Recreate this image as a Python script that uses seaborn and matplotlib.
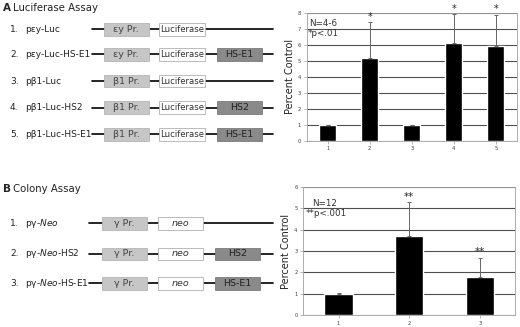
import numpy as np
import matplotlib
matplotlib.use("Agg")
import matplotlib.pyplot as plt
import matplotlib.patches as mpatches
import seaborn as sns

# bar chart values
luc_labels = ["1", "2", "3", "4", "5"]
luc_values = [1.0, 5.2, 1.0, 6.1, 5.95]
luc_err = [0.0, 2.2, 0.0, 1.8, 1.9]
luc_stars = ["", "*", "", "*", "*"]

col_labels = ["1", "2", "3"]
col_values = [1.0, 3.7, 1.8]
col_err = [0.03, 1.57, 0.87]
col_stars = ["", "**", "**"]

# construct diagrams
luc_names = ["pεy-Luc", "pεy-Luc-HS-E1", "pβ1-Luc", "pβ1-Luc-HS2", "pβ1-Luc-HS-E1"]
luc_promoters = ["εy Pr.", "εy Pr.", "β1 Pr.", "β1 Pr.", "β1 Pr."]
luc_enhancers = ["", "HS-E1", "", "HS2", "HS-E1"]

col_names = [r"pγ-$\mathit{Neo}$", r"pγ-$\mathit{Neo}$-HS2", r"pγ-$\mathit{Neo}$-HS-E1"]
col_promoters = ["γ Pr.", "γ Pr.", "γ Pr."]
col_enhancers = ["", "HS2", "HS-E1"]

sns.set_style("white")
plt.rcParams['font.family'] = ['DejaVu Sans']
plt.rcParams['mathtext.fontset'] = 'dejavusans'

fig = plt.figure(figsize=(5.2, 3.27), dpi=100)

# left side: diagrams drawn in pixel-like coordinates
dg = fig.add_axes([0, 0, 1, 1])
dg.set_xlim(0, 520)
dg.set_ylim(327, 0)
dg.axis('off')


def construct(y, num, name, prom, rep, enh, x0, xp, xr, xh, rep_italic):
    dg.text(10, y, num + ".", fontsize=6.5, va='center', color='#222')
    dg.text(25, y, name, fontsize=6.5, va='center', color='#222')
    dg.plot([x0, 273], [y, y], color='black', lw=1.2, zorder=1)
    h = 12.6
    dg.add_patch(mpatches.Rectangle((xp, y - h / 2), 45, h, fc='#c6c6c6', ec='#b5b5b5', lw=0.6, zorder=2))
    dg.text(xp + 22.5, y, prom, fontsize=6.8, ha='center', va='center', color='#444', zorder=3)
    dg.add_patch(mpatches.Rectangle((xr, y - h / 2), 45.5, h, fc='white', ec='#b0b0b0', lw=0.6, zorder=2))
    dg.text(xr + 22.75, y, rep, fontsize=6.8 if rep_italic else 6.1, ha='center', va='center', color='#333',
            style='italic' if rep_italic else 'normal', zorder=3)
    if enh:
        dg.add_patch(mpatches.Rectangle((xh, y - h / 2), 45, h, fc='#8a8a8a', ec='#7a7a7a', lw=0.6, zorder=2))
        dg.text(xh + 22.5, y, enh, fontsize=6.8, ha='center', va='center', color='#222', zorder=3)


dg.text(3, 8, "A", fontsize=7.5, fontweight='bold', va='center')
dg.text(13, 8, "Luciferase Assay", fontsize=7.3, va='center', color='#222')
luc_rows = [29.3, 54.3, 81, 107.7, 134.3]
for i, y in enumerate(luc_rows):
    construct(y, str(i + 1), luc_names[i], luc_promoters[i], "Luciferase", luc_enhancers[i],
              92, 103.5, 159, 217, False)

dg.text(3, 189, "B", fontsize=7.5, fontweight='bold', va='center')
dg.text(13, 189, "Colony Assay", fontsize=7.3, va='center', color='#222')
col_rows = [223.3, 254, 283.3]
for i, y in enumerate(col_rows):
    construct(y, str(i + 1), col_names[i], col_promoters[i], "neo", col_enhancers[i],
              89, 101.7, 157.5, 215, True)


def bar_panel(ax, labels, values, err, stars, ymax, star_size):
    sns.barplot(x=labels, y=values, color='black', width=0.4, saturation=1, ax=ax)
    n = len(values)
    ax.errorbar(np.arange(n), values, yerr=[np.zeros(n), err], fmt='none',
                ecolor='#666', elinewidth=0.7, capsize=1.5, capthick=0.7)
    for i, s in enumerate(stars):
        if s:
            ax.annotate(s, (i, values[i] + err[i]), xytext=(0, 0.5), textcoords='offset points',
                        ha='center', va='bottom', fontsize=star_size, clip_on=False)
    ax.set_ylim(0, ymax)
    ax.set_xlim(-0.5, n - 0.5)
    ax.set_yticks(range(ymax + 1))
    ax.set_axisbelow(True)
    ax.yaxis.grid(True, color='#505050', lw=0.8)
    ax.xaxis.grid(False)
    for sp in ax.spines.values():
        sp.set_color('#a0a0a0')
        sp.set_linewidth(0.6)
    ax.tick_params(axis='both', labelsize=3.8, length=2, width=0.5, color='#999',
                   pad=2, labelcolor='#444', left=True, bottom=True)
    ax.set_ylabel("Percent Control", fontsize=7, labelpad=2, color='#222')
    ax.set_xlabel("")


axA = fig.add_axes([0.590, 0.570, 0.404, 0.391])
bar_panel(axA, luc_labels, luc_values, luc_err, luc_stars, 8, 7)
axA.text(-0.45, 7.33, "N=4-6", fontsize=6.3, va='center', color='#333')
axA.text(-0.48, 6.7, "*p<.01", fontsize=6.3, va='center', color='#333')

axB = fig.add_axes([0.583, 0.036, 0.408, 0.393])
bar_panel(axB, col_labels, col_values, col_err, col_stars, 6, 7.5)
axB.text(-0.37, 5.2, "N=12", fontsize=6.3, va='center', color='#333')
axB.text(-0.46, 4.76, "**p<.001", fontsize=6.3, va='center', color='#333')

fig.savefig("out.png", dpi=100)
